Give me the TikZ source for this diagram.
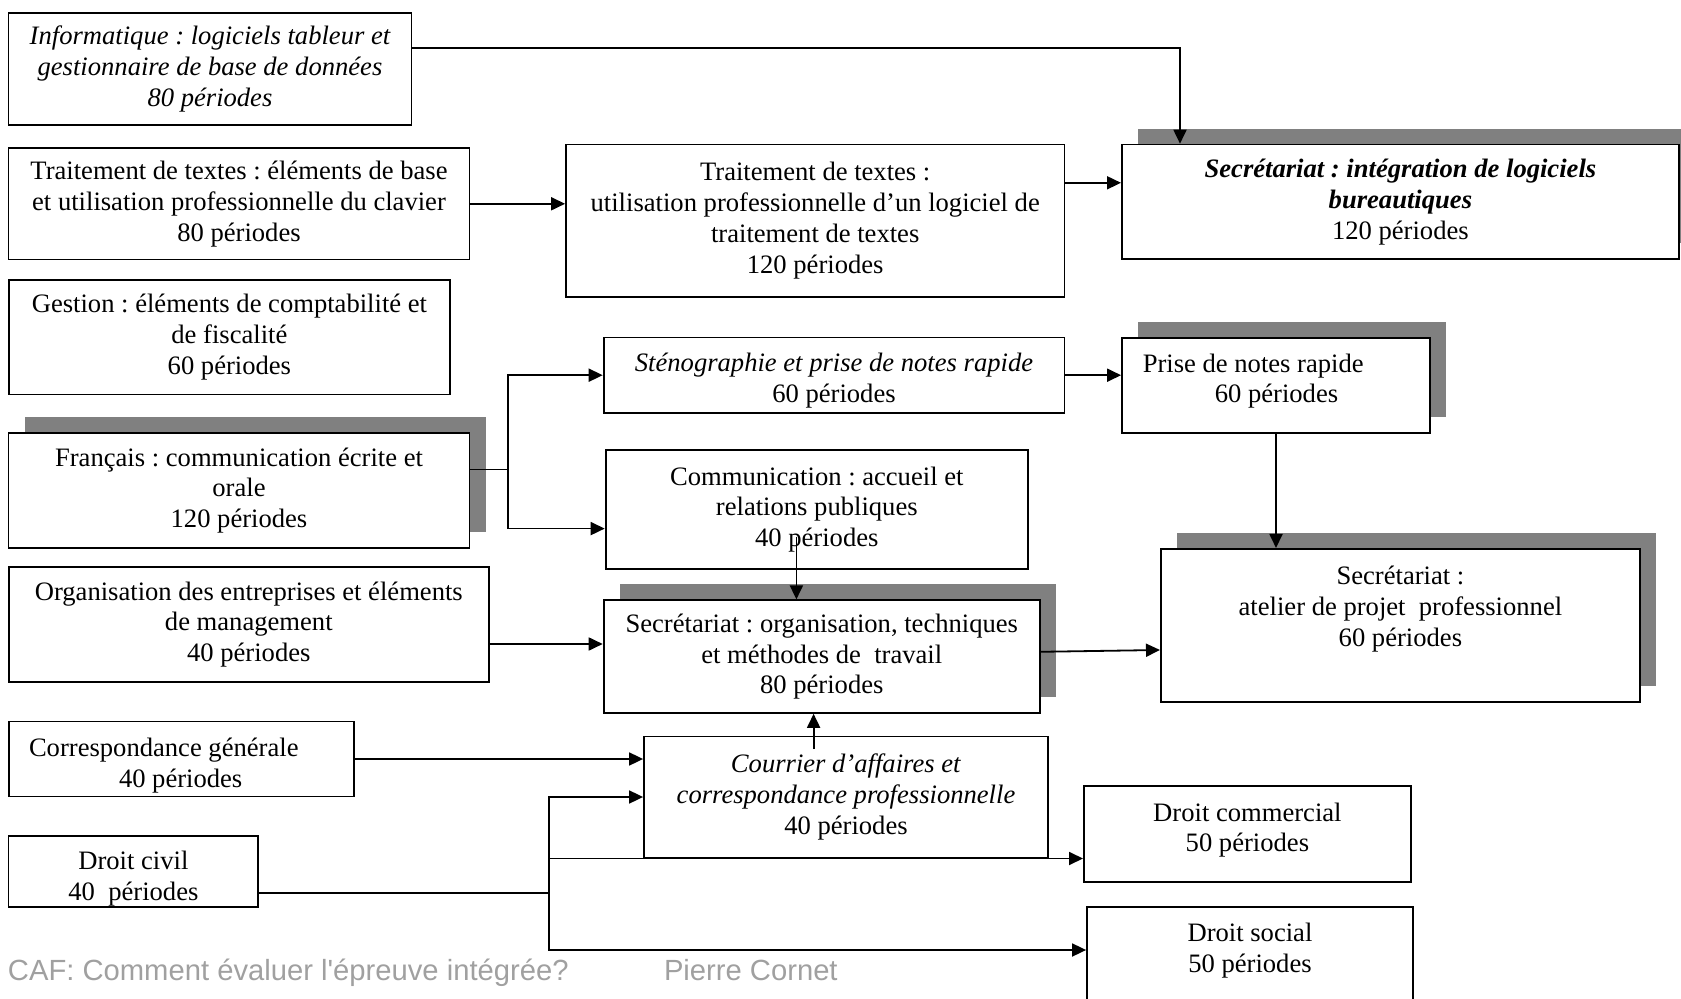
\documentclass[tikz,border=0pt]{standalone}
\usepackage{fontspec}
\setmainfont{Liberation Serif}
\newfontfamily\footfont[Ligatures=TeXOff]{Liberation Sans}
\usetikzlibrary{arrows.meta,shadows}
\newcommand\boxfont{\fontsize{13.3}{15.4}\selectfont}
\newcommand\uplift[1]{\rule{0pt}{#1}}
\newcommand\downdrop[1]{\rule[-#1]{0pt}{#1}}
\frenchspacing

\begin{document}
\begin{tikzpicture}[x=1pt,y=-1pt,
  box/.style={draw=black,line width=0.9pt,fill=white,align=center,inner sep=2pt,font=\boxfont},
  shadowed/.style={drop shadow={shadow xshift=8pt,shadow yshift=8pt,fill=shade,opacity=1}},
  arr/.style={line width=0.9pt,-{Triangle[length=7pt,width=6.5pt]}},
  link/.style={line width=0.9pt},
  foottext/.style={font=\footfont\fontsize{14.6}{17}\selectfont,text=foot,anchor=base west,inner sep=0pt}]
\definecolor{shade}{HTML}{808080}
\definecolor{foot}{HTML}{A0A0A0}
\useasboundingbox (0,0) rectangle (840.5,499.5);
% left column
\node[box,minimum width=201.5pt,minimum height=56.2pt,font=\boxfont\itshape] (info) at (105,34.6) {Informatique : logiciels tableur et\\gestionnaire de base de données\\80 périodes};
\node[box,minimum width=230.5pt,minimum height=55.7pt] (tta) at (119.5,101.9) {Traitement de textes : éléments de base\\et utilisation professionnelle du clavier\\80 périodes};
\node[box,minimum width=220.7pt,minimum height=57.3pt] (gest) at (114.7,168.6) {Gestion : éléments de comptabilité et\\de fiscalité\\60 périodes};
\node[box,shadowed,minimum width=230.5pt,minimum height=57.5pt] (fran) at (119.5,245.2) {Français : communication écrite et\\orale\\120 périodes};
\node[box,minimum width=240.2pt,minimum height=57.5pt] (orga) at (124.4,312.2) {Organisation des entreprises et éléments\\de management\\40 périodes};
\node[box,align=flush left,text width=152.2pt,inner xsep=10.2pt,inner ysep=0pt,minimum height=37.5pt] (corr) at (90.6,379.5) {\uplift{15.7pt}Correspondance générale\\\hspace*{45pt}40 périodes};
\node[box,inner ysep=0pt,minimum width=124.9pt,minimum height=35.5pt] (civ) at (66.7,435.7) {\uplift{16.6pt}Droit civil\\40~ périodes};
% middle column
\node[box,minimum width=249.2pt,minimum height=76.2pt] (ttb) at (407.6,110.4) {Traitement de textes :\\utilisation professionnelle d’un logiciel de\\traitement de textes\\120 périodes};
\node[box,minimum width=230.4pt,minimum height=37.6pt] (steno) at (417,187.6) {\uplift{14.7pt}\textit{Sténographie et prise de notes rapide}\\60 périodes};
\node[box,minimum width=211.2pt,minimum height=59.5pt] (comm) at (408.4,254.8) {Communication : accueil et\\relations publiques\\40 périodes};
\node[box,shadowed,minimum width=218.2pt,minimum height=56.3pt] (sorg) at (410.9,328.3) {Secrétariat : organisation, techniques\\et méthodes de~ travail\\80 périodes};
\node[box,minimum width=202pt,minimum height=60.6pt] (cour) at (423,398.5) {\textit{Courrier d’affaires et}\\\textit{correspondance professionnelle}\\40 périodes};
% right column
\node[box,shadowed,minimum width=278.5pt,minimum height=57.4pt] (sint) at (700.2,101) {\textbf{\textit{Secrétariat : intégration de logiciels}}\\\textbf{\textit{bureautiques}}\\120 périodes};
\node[box,shadowed,align=flush left,text width=133.2pt,inner xsep=10.4pt,minimum height=47.7pt] (prise) at (638,192.7) {Prise de notes rapide\\\hspace*{36pt}60 périodes\downdrop{7.1pt}};
\node[box,shadowed,minimum width=239.5pt,minimum height=76.5pt] (sate) at (700.2,312.7) {Secrétariat :\\atelier de projet~ professionnel\\60 périodes\\[4pt]\mbox{}};
\node[box,minimum width=163.5pt,minimum height=48pt] (dcom) at (623.7,417) {Droit commercial\\50 périodes\downdrop{6.7pt}};
\node[box,minimum width=163pt,minimum height=52pt] (dsoc) at (625,479.5) {Droit social\\50 périodes\\[-4pt]\mbox{}};
% footer
\node[foottext] (caf) at (3.8,490) {CAF: Comment évaluer l'épreuve intégrée?};
\node[foottext] (auteur) at (331.8,490) {Pierre Cornet};
% connectors
\draw[arr] ([yshift=10.6pt]info.east) -| ([xshift=-110.2pt]sint.north);
\draw[arr] (tta.east) -- (tta.east -| ttb.west);
\draw[arr] ([yshift=19pt]ttb.east) coordinate (t1) -- (t1 -| sint.west);
\draw[link] ([yshift=10.4pt]fran.east) -- ++(18.7,0) coordinate (fj);
\draw[arr] (fj) |- (steno.west);
\draw[arr] (fj) |- ([yshift=-9.5pt]comm.west);
\draw[arr] (steno.east) -- (steno.east -| prise.west);
\draw[arr] (prise.south) -- (prise.south |- sate.north);
\draw[arr] ([xshift=-10.2pt,yshift=16.5pt]comm.south) coordinate (cm) -- (cm |- sorg.north);
\draw[arr] ([yshift=-9.8pt]orga.east) coordinate (o1) -- (o1 -| sorg.west);
\draw[arr] ([yshift=2.4pt]sorg.east) -- ([yshift=-12.3pt]sate.west);
\draw[arr] ([xshift=-16.2pt,yshift=-6.8pt]cour.north) coordinate (cr) -- (cr |- sorg.south);
\draw[arr] (corr.east) -- (corr.east -| cour.west);
\draw[link] ([yshift=-10.8pt]civ.east) -- ++(144.8,0) coordinate (cj);
\draw[arr] (cj) |- (cour.west);
\draw[arr] (cj) |- (cour.south -| dcom.west);
\draw[arr] (cj) |- ([yshift=4.5pt]dsoc.west);
\end{tikzpicture}
\end{document}
